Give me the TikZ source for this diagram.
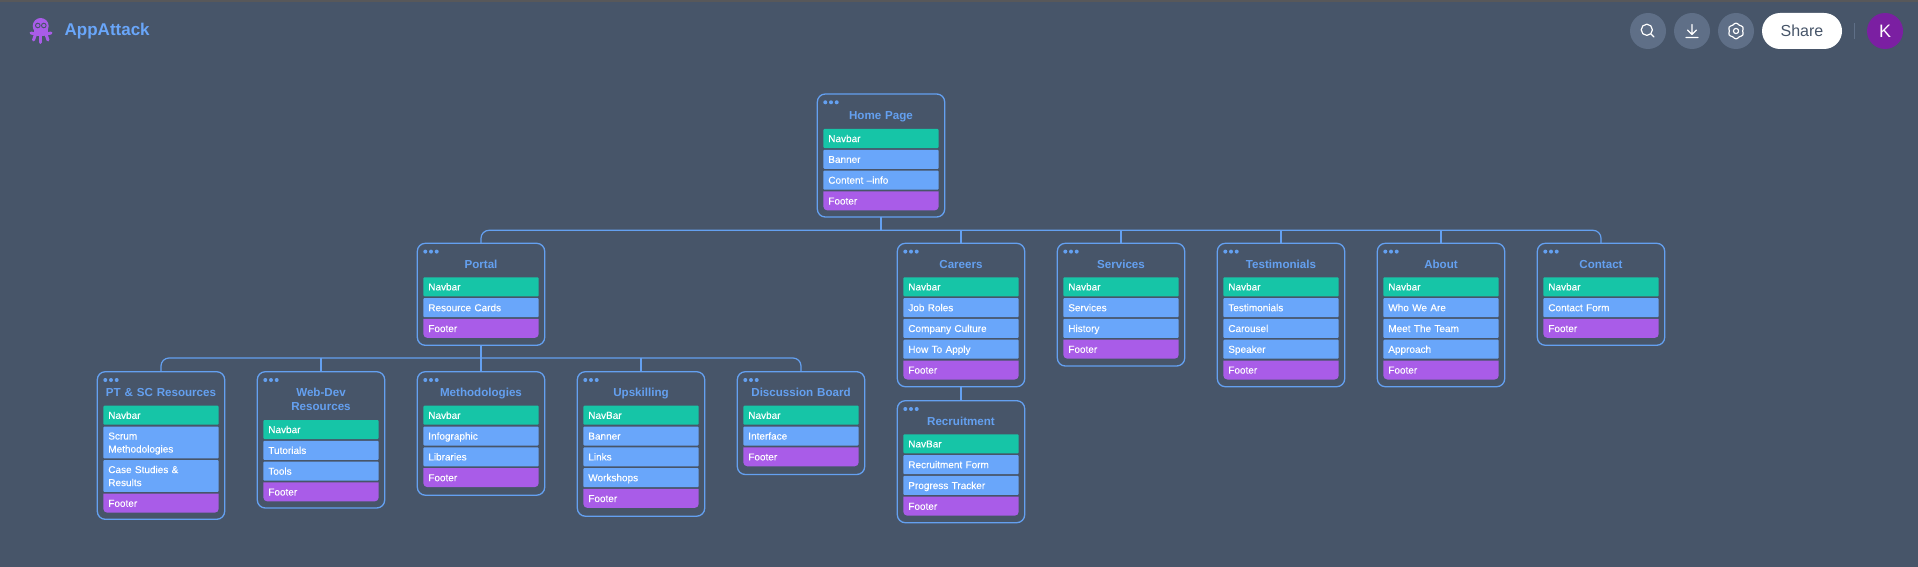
\documentclass[tikz,border=0pt]{standalone}
\usepackage{fontspec}
\setmainfont{Liberation Sans}
\newfontface\barface[FakeBold=0.25]{Liberation Sans}
\definecolor{bgc}{HTML}{475569}
\definecolor{blu}{HTML}{69A6FA}
\definecolor{edgec}{HTML}{64A0F0}
\definecolor{tealc}{HTML}{16C5A7}
\definecolor{purp}{HTML}{A95CE8}
\definecolor{btnc}{HTML}{5F6F87}
\definecolor{kc}{HTML}{7B1FA2}
\definecolor{topc}{HTML}{58585A}
\newcount\barno
\tikzset{
  cardbox/.style={draw=edgec,line width=1.3pt,rounded corners=8pt,anchor=north west,
    minimum width=127.4pt,inner sep=0pt,outer sep=0pt},
  cardtitle/.style={text=edgec,font=\fontsize{11.6}{14}\selectfont\bfseries,align=center,text width=122pt,inner sep=0pt,
    text height=8.3pt,text depth=0pt},
  barlabel/.style={anchor=north west,text=white,font=\barface\fontsize{10}{13}\selectfont,align=left,
    minimum width=115.4pt,text width=105.4pt,inner xsep=5pt,inner ysep=0pt,outer sep=0pt,
    text height=7.2pt,text depth=0pt},
  twotitle/.style={text depth=14pt},
  twobar/.style={text depth=13pt},
  titlex/.style={},
  barx/.style={},
  link/.style={draw=edgec,line width=1.2pt},
  icon/.style={draw=white,line width=1.2pt,line cap=round,line join=round},
}
% #1 name, #2 x, #3 y top, #4 height, #5 title, #6 title centre y, #7 first bar y
\newcommand\cardframe[7]{%
  \node[cardbox,minimum height=#4pt] (#1) at (#2,#3) {};
  \node[cardtitle,titlex] (#1-t) at ($(#1.north)+(0,#6)$) {#5};
  \foreach \d in {8,13.7,19.4}{\fill[edgec] ($(#1.north west)+(\d,8.3)$) circle (2pt);}
  \def\curname{#1}\barno=0
  \pgfmathsetmacro\curx{#2+6}\pgfmathsetmacro\cury{#7}}
% #1 colour, #2 height, #3 text
\newcommand\cbar[3]{%
  \advance\barno by 1
  \node[barlabel,barx,fill=#1,rounded corners=1pt,minimum height=#2pt] (\curname-\the\barno) at (\curx,\cury) {#3};
  \pgfmathsetmacro\cury{\cury+#2+1.8}}
\newcommand\nav[1]{\cbar{tealc}{19}{#1}}
\newcommand\itm[1]{\cbar{blu}{19}{#1}}
\newcommand\itmtwo[1]{\tikzset{barx/.style={twobar}}\cbar{blu}{31.8}{#1}\tikzset{barx/.style={}}}
\newcommand\foot[1]{%
  \advance\barno by 1
  \fill[purp] (\curx,\cury) -- ++(115.4,0) [rounded corners=4pt] -- ++(0,19) -- ++(-115.4,0) [sharp corners] -- cycle;
  \node[barlabel,minimum height=19pt] (\curname-\the\barno) at (\curx,\cury) {#1};}
\usetikzlibrary{calc}
\begin{document}
\begin{tikzpicture}[x=1pt,y=-1pt]
\useasboundingbox (0,0) rectangle (1918,567);
\fill[bgc] (0,0) rectangle (1918,567);
\fill[topc] (0,0) rectangle (1918,2);

% brand
\draw[purp,line width=3pt,line cap=round] (31,33) .. controls (36,35) and (45,35) .. (51,33);
\draw[purp,line width=3pt,line cap=round] (36,33) -- (33.5,40);
\draw[purp,line width=3pt,line cap=round] (45.5,33) -- (48,40);
\draw[purp,line width=3pt,line cap=round] (40.7,33) -- (40.7,42.5);
\fill[purp] (40.7,26) circle (8);
\fill[purp] (33.5,27) rectangle (48,35);
\draw[bgc,line width=.9pt] (37.8,25.5) circle (2.3) (43.8,25.5) circle (2.3);
\node[anchor=west,text=blu,font=\fontsize{17}{20}\selectfont\bfseries,inner sep=0pt] (brand) at (64.5,31.5) {AppAttack};

% toolbar
\node[circle,fill=btnc,minimum size=36pt,inner sep=0pt] (btnS) at (1648,31) {};
\node[circle,fill=btnc,minimum size=36pt,inner sep=0pt] (btnD) at (1692,31) {};
\node[circle,fill=btnc,minimum size=36pt,inner sep=0pt] (btnG) at (1736,31) {};
\node[fill=white,rounded corners=18pt,minimum width=80pt,minimum height=36pt,inner sep=0pt,
  text=bgc,font=\fontsize{16}{18}\selectfont] (share) at (1802,31) {Share};
\node[circle,fill=kc,minimum size=36pt,inner sep=0pt,text=white,font=\fontsize{18}{20}\selectfont] (kbtn) at (1885,31) {K};
\draw[btnc,line width=.9pt] (1854.3,23) -- (1854.3,39);
\draw[icon] (1646.8,29.8) circle (5.6) (1651,34) -- (1654,37);
\draw[icon] (1692,24.5) -- (1692,34) (1687.5,30) -- (1692,34.5) -- (1696.5,30) (1686,37.5) -- (1698,37.5);
\draw[icon] plot[smooth cycle,tension=.8,samples at={0,30,...,330}]
  ({1736+(7.9-1.2*mod(\x/30,2))*sin(\x)},{31+(7.9-1.2*mod(\x/30,2))*cos(\x)});
\draw[icon] (1736,31) circle (2.6);

% row 0
\cardframe{home}{817.3}{94}{123}{Home Page}{21}{129}
\nav{Navbar}\itm{Banner}\itm{Content –info}\foot{Footer}

% row 1
\cardframe{portal}{417.3}{243.3}{102}{Portal}{21}{277.3}
\nav{Navbar}\itm{Resource Cards}\foot{Footer}
\cardframe{careers}{897.3}{243.3}{143.4}{Careers}{21}{277.3}
\nav{Navbar}\itm{Job Roles}\itm{Company Culture}\itm{How To Apply}\foot{Footer}
\cardframe{services}{1057.3}{243.3}{122.7}{Services}{21}{277.3}
\nav{Navbar}\itm{Services}\itm{History}\foot{Footer}
\cardframe{testi}{1217.3}{243.3}{143.4}{Testimonials}{21}{277.3}
\nav{Navbar}\itm{Testimonials}\itm{Carousel}\itm{Speaker}\foot{Footer}
\cardframe{about}{1377.3}{243.3}{143.4}{About}{21}{277.3}
\nav{Navbar}\itm{Who We Are}\itm{Meet The Team}\itm{Approach}\foot{Footer}
\cardframe{contact}{1537.3}{243.3}{102}{Contact}{21}{277.3}
\nav{Navbar}\itm{Contact Form}\foot{Footer}

% recruitment
\cardframe{recruit}{897.3}{400.7}{122}{Recruitment}{21}{434.3}
\nav{NavBar}\itm{Recruitment Form}\itm{Progress Tracker}\foot{Footer}

% row 2
\cardframe{pt}{97.3}{371.7}{147.6}{PT \& SC Resources}{20.5}{405.7}
\nav{Navbar}\itmtwo{Scrum\\Methodologies}\itmtwo{Case Studies \&\\Results}\foot{Footer}
\tikzset{titlex/.style={twotitle}}
\cardframe{web}{257.3}{371.7}{136.3}{Web-Dev\\Resources}{27.5}{420}
\tikzset{titlex/.style={}}
\nav{Navbar}\itm{Tutorials}\itm{Tools}\foot{Footer}
\cardframe{meth}{417.3}{371.7}{123.5}{Methodologies}{20.5}{405.7}
\nav{Navbar}\itm{Infographic}\itm{Libraries}\foot{Footer}
\cardframe{upsk}{577.3}{371.7}{144.5}{Upskilling}{20.5}{405.7}
\nav{NavBar}\itm{Banner}\itm{Links}\itm{Workshops}\foot{Footer}
\cardframe{disc}{737.3}{371.7}{102.8}{Discussion Board}{20.5}{405.7}
\nav{Navbar}\itm{Interface}\foot{Footer}

% connectors
\coordinate (busA) at (881,230.3);
\coordinate (busB) at (481,358);
\draw[link,rounded corners=8pt] (portal.north) |- (busA) -| (contact.north);
\draw[link] (home.south) -- (busA);
\foreach \n in {careers,services,testi,about}{\draw[link] (\n.north) -- (\n.north |- busA);}
\draw[link,rounded corners=8pt] (pt.north) |- (busB) -| (disc.north);
\draw[link] (portal.south) -- (meth.north);
\foreach \n in {web,upsk}{\draw[link] (\n.north) -- (\n.north |- busB);}
\draw[link] (careers.south) -- (recruit.north);
\end{tikzpicture}
\end{document}
